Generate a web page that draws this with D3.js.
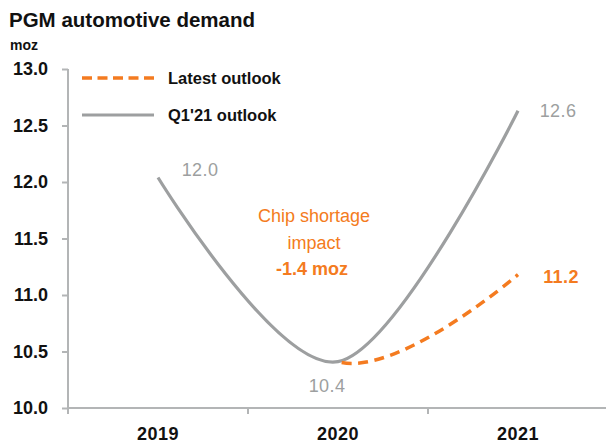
<!DOCTYPE html>
<html>
<head>
<meta charset="utf-8">
<script src="https://cdn.jsdelivr.net/npm/d3@7"></script>
<style>
  html, body { margin: 0; padding: 0; background: #fff; }
  svg { display: block; font-family: "Liberation Sans", Arial, sans-serif; }
</style>
</head>
<body>
<svg id="chart" width="606" height="447"></svg>
<script>
// Demand in million ounces (moz)
const years = ["2019", "2020", "2021"];
const q1Outlook = [12.04, 10.41, 12.63];      // Q1'21 outlook
const latestOutlook = [12.04, 10.41, 11.18];  // latest outlook (drawn from 2020 onwards)
const yTicks = [10.0, 10.5, 11.0, 11.5, 12.0, 12.5, 13.0];
const impactText = ["Chip shortage", "impact"];
const impactValue = "-1.4 moz";

const ORANGE = "#f47b20";
const GREY = "#9d9fa0";
const AXIS = "#b3b5b6";

const svg = d3.select("#chart");
const x = d3.scaleBand().domain(years).range([68, 608]).padding(0);
const y = d3.scaleLinear().domain([10, 13]).range([408, 69]);
const cx = d => x(d) + x.bandwidth() / 2;

// Title and unit
svg.append("text").attr("x", 9).attr("y", 27)
  .attr("font-size", 20.5).attr("font-weight", "bold").attr("fill", "#111")
  .text("PGM automotive demand");
svg.append("text").attr("x", 10).attr("y", 50)
  .attr("font-size", 14).attr("font-weight", "bold").attr("fill", "#111")
  .text("moz");

// Y axis
const yAxis = svg.append("g").attr("transform", `translate(${x.range()[0]},0)`)
  .call(d3.axisLeft(y).tickValues(yTicks).tickFormat(d3.format(".1f")).tickSize(6).tickPadding(14));
yAxis.select(".domain").attr("stroke", AXIS).attr("stroke-width", 2).attr("d", `M0,${y(13)}V${y(10) + 6}`);
yAxis.selectAll(".tick line").attr("stroke", AXIS).attr("stroke-width", 2);
yAxis.selectAll(".tick text").attr("fill", "#111").attr("font-size", 18).attr("font-weight", "bold")
  .attr("font-family", "Liberation Sans, Arial, sans-serif");

// X axis with ticks on category boundaries
const xAxis = svg.append("g").attr("transform", `translate(0,${y(10)})`);
xAxis.append("line").attr("x1", x.range()[0]).attr("x2", x.range()[1])
  .attr("stroke", AXIS).attr("stroke-width", 2);
xAxis.selectAll("line.b").data(years.slice(1)).join("line").attr("class", "b")
  .attr("x1", d => x(d)).attr("x2", d => x(d)).attr("y1", 0).attr("y2", 6)
  .attr("stroke", AXIS).attr("stroke-width", 2);
xAxis.selectAll("text").data(years).join("text")
  .attr("x", d => cx(d)).attr("y", 32).attr("text-anchor", "middle")
  .attr("font-size", 18).attr("font-weight", "bold").attr("fill", "#111")
  .attr("letter-spacing", 0.5)
  .text(d => d);

// Smoothed lines
const line = d3.line().x((d, i) => cx(years[i])).y(d => y(d)).curve(d3.curveCardinal.tension(0));

svg.append("clipPath").attr("id", "fromLatest")
  .append("rect").attr("x", cx("2020")).attr("y", 0).attr("width", 606).attr("height", 447);

svg.append("path").datum(q1Outlook).attr("d", line)
  .attr("fill", "none").attr("stroke", GREY).attr("stroke-width", 3.2);

svg.append("path").datum(latestOutlook).attr("d", line)
  .attr("clip-path", "url(#fromLatest)")
  .attr("fill", "none").attr("stroke", ORANGE).attr("stroke-width", 3.5)
  .attr("stroke-dasharray", "10,6.5");

// Data labels
const fmt = d3.format(".1f");
const labels = [
  { v: q1Outlook[0], i: 0, dx: 42, dy: -8, color: GREY, bold: false },
  { v: q1Outlook[1], i: 1, dx: -11, dy: 24, color: GREY, bold: false },
  { v: q1Outlook[2], i: 2, dx: 40, dy: 0, color: GREY, bold: false },
  { v: latestOutlook[2], i: 2, dx: 43, dy: 2, color: ORANGE, bold: true }
];
svg.selectAll("text.val").data(labels).join("text").attr("class", "val")
  .attr("x", d => cx(years[d.i]) + d.dx).attr("y", d => y(d.v) + d.dy)
  .attr("dy", "0.35em").attr("text-anchor", "middle")
  .attr("font-size", 18).attr("letter-spacing", 0.4)
  .attr("font-weight", d => d.bold ? "bold" : "normal")
  .attr("fill", d => d.color)
  .text(d => fmt(d.v));

// Annotation
const ann = svg.append("g").attr("fill", ORANGE).attr("text-anchor", "middle").attr("font-size", 18);
ann.selectAll("text.t").data(impactText).join("text").attr("class", "t")
  .attr("x", 314).attr("y", (d, i) => 222 + i * 27).text(d => d);
ann.append("text").attr("x", 312).attr("y", 275).attr("font-weight", "bold").text(impactValue);

// Legend
const legend = [
  { name: "Latest outlook", color: ORANGE, dash: "10,5.5", w: 3.5 },
  { name: "Q1'21 outlook", color: GREY, dash: null, w: 3.2 }
];
const lg = svg.append("g");
legend.forEach((d, i) => {
  const yy = 78 + i * 37;
  lg.append("line").attr("x1", 82).attr("x2", 154).attr("y1", yy).attr("y2", yy)
    .attr("stroke", d.color).attr("stroke-width", d.w)
    .attr("stroke-dasharray", d.dash);
  lg.append("text").attr("x", 168).attr("y", yy).attr("dy", "0.35em")
    .attr("font-size", 16.5).attr("font-weight", "bold").attr("fill", "#111").text(d.name);
});
</script>
</body>
</html>
